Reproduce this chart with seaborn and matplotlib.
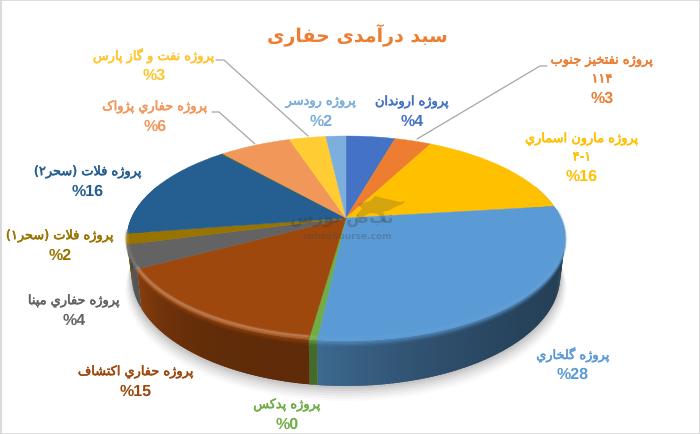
# 3D style revenue pie (persian labels), pixel coords used for the axes

import numpy as np
import matplotlib
matplotlib.use("Agg")
import matplotlib.pyplot as plt
import matplotlib.patheffects as pe
import matplotlib.transforms as mtransforms
from matplotlib.patches import Rectangle
import seaborn as sns

# data, clockwise from 12 o'clock
shares = [4.4, 3.3, 15.4, 28.7, 0.5, 15.0, 3.7, 1.7, 15.8, 0.15, 6.4, 3.3, 1.8]
colors = ["#4472C4", "#ED7D31", "#FFC000", "#5B9BD5", "#70AD47", "#9E480E", "#636363",
          "#997300", "#255E91", "#43682B", "#F1975A", "#FFCD33", "#7CAFDD"]

title = "سبد درآمدی حفاری"
names = ["پروژه اروندان", "پروژه نفتخیز جنوب", "پروژه مارون اسماري", "پروژه گلخاري", "پروژه پدکس",
         "پروژه حفاري اکتشاف", "پروژه حفاري مپنا", "پروژه فلات (سحر۱)", "پروژه فلات (سحر۲)",
         "پروژه حفاري پژواک", "پروژه نفت و گاز پارس", "پروژه رودسر"]
extra_lines = ["", "۱۱۴", "۴-۱", "", "", "", "", "", "", "", "", ""]
percents = ["%4", "%3", "%16", "%28", "%0", "%15", "%4", "%2", "%16", "%6", "%3", "%2"]
label_colors = ["#4472C4", "#ED7D31", "#FFC000", "#5B9BD5", "#70AD47", "#9E480E", "#636363",
                "#997300", "#255E91", "#F1975A", "#FFC52F", "#7CAFDD"]
label_x = [412, 602, 582, 573, 287, 136, 74, 60, 88, 155, 154, 321]
label_y = [103, 62, 140, 356, 406, 373, 302, 237, 173, 108, 57, 103]

# wall brightness per slice, right end / left end
wall_right = [.6, .6, .6, .4, .62, .6, .85, .7, .7, .7, .7, .7, .7]
wall_left = [.6, .6, .6, .68, .62, .88, .9, .7, .7, .7, .7, .7, .7]
# how much of the bevel highlight each slice gets
bevel = [1, 1, 1, .2, .5, 1.7, .6, 1, 1, 1, 1, 1, 1]

# leader lines: label end, elbow, pie end
leaders = [([216, 224, 308], [61, 61, 137]),
           ([212, 219, 255], [113, 113, 145]),
           ([547, 540, 417], [67, 67, 140])]

# bull of the watermark
bull_x = [358, 370, 375, 387, 400, 405, 403, 397, 390, 383, 387, 383, 378, 370, 362, 355, 357, 362]
bull_y = [205, 202, 197, 200, 203, 202, 205, 207, 211, 213, 223, 223, 215, 214, 218, 223, 215, 210]

CX, CY, SX, SY, K, DEPTH = 346, 219, 214.6, 98.4, 0.2, 36


# matplotlib has no arabic shaping so pick the presentation forms by hand
FORMS = {
    "ا": "\uFE8D\uFE8E", "آ": "\uFE81\uFE82", "د": "\uFEA9\uFEAA", "ر": "\uFEAD\uFEAE",
    "ز": "\uFEAF\uFEB0", "ژ": "\uFB8A\uFB8B", "و": "\uFEED\uFEEE",
    "ب": "\uFE8F\uFE90\uFE91\uFE92", "پ": "\uFB56\uFB57\uFB58\uFB59", "ت": "\uFE95\uFE96\uFE97\uFE98",
    "ج": "\uFE9D\uFE9E\uFE9F\uFEA0", "ح": "\uFEA1\uFEA2\uFEA3\uFEA4", "خ": "\uFEA5\uFEA6\uFEA7\uFEA8",
    "س": "\uFEB1\uFEB2\uFEB3\uFEB4", "ش": "\uFEB5\uFEB6\uFEB7\uFEB8", "ف": "\uFED1\uFED2\uFED3\uFED4",
    "ک": "\uFB8E\uFB8F\uFB90\uFB91", "گ": "\uFB92\uFB93\uFB94\uFB95", "ل": "\uFEDD\uFEDE\uFEDF\uFEE0",
    "م": "\uFEE1\uFEE2\uFEE3\uFEE4", "ن": "\uFEE5\uFEE6\uFEE7\uFEE8", "ه": "\uFEE9\uFEEA\uFEEB\uFEEC",
    "ی": "\uFBFC\uFBFD\uFBFE\uFBFF", "ي": "\uFEF1\uFEF2\uFEF3\uFEF4",
}
MIRROR = {"(": ")", ")": "("}


def shape(text):
    out = []
    i = 0
    while i < len(text):
        ch = text[i]
        if ch not in FORMS:
            out.append(MIRROR.get(ch, ch))
            i += 1
            continue
        prev_joins = i > 0 and text[i - 1] in FORMS and len(FORMS[text[i - 1]]) == 4
        if ch == "ل" and i + 1 < len(text) and text[i + 1] == "ا":
            out.append("\uFEFC" if prev_joins else "\uFEFB")
            i += 2
            continue
        forms = FORMS[ch]
        next_joins = len(forms) == 4 and i + 1 < len(text) and text[i + 1] in FORMS
        if prev_joins and next_joins:
            out.append(forms[3])
        elif next_joins:
            out.append(forms[2])
        elif prev_joins:
            out.append(forms[1])
        else:
            out.append(forms[0])
        i += 1
    return "".join(reversed(out))


class TiltTransform(mtransforms.Transform):
    # perspective view of the unit circle, gives pixel coords
    input_dims = 2
    output_dims = 2
    is_separable = False

    def transform_non_affine(self, values):
        values = np.asarray(values, dtype=float)
        w = 1 + K * values[:, 1]
        return np.column_stack([CX + SX * values[:, 0] / w, CY - SY * values[:, 1] / w])


def rim(theta, drop=0.0):
    rad = np.radians(theta)
    X, Y = np.sin(rad), np.cos(rad)
    w = 1 + K * Y
    # the lower edge of the wall is a bit narrower than the top
    scale = 1 - 0.022 * drop / DEPTH
    return CX + SX * X / w * scale, CY - SY * Y / w + drop / w


def mix(color, factor):
    rgb = np.array(matplotlib.colors.to_rgb(color))
    if factor <= 1:
        return tuple(rgb * factor)
    return tuple(rgb + (1 - rgb) * (factor - 1))


def label(x, y, text, col):
    # regular weight with a thin stroke, true bold closes up the dots at this size
    ax.text(x, y, text, color=col, fontsize=9.3, ha="center", va="center",
            path_effects=[pe.withStroke(linewidth=0.4, foreground=col)])


sns.set_theme(style="white")
plt.rcParams["text.hinting"] = "no_hinting"
plt.rcParams["text.hinting_factor"] = 1
palette = sns.color_palette(colors)

fig, ax = plt.subplots(figsize=(7, 4.35), dpi=100)
fig.subplots_adjust(0, 0, 1, 1)

edges = np.concatenate([[0], np.cumsum(shares)]) / np.sum(shares) * 360

# soft shadow under the pie
ring = np.linspace(70, 290, 120)
for grow, alpha in zip([12, 10, 8, 6, 4, 2], [.02, .03, .035, .04, .05, .06]):
    xs, ys = rim(ring, DEPTH + grow)
    ax.fill(CX + (xs - CX) * (1 + grow / 320), ys, color="black", alpha=alpha, lw=0, zorder=1)

# side wall, split in thin strips so it can carry a gradient
for i, color in enumerate(palette):
    a, b = max(edges[i], 70), min(edges[i + 1], 290)
    if b <= a:
        continue
    steps = np.arange(a, b + 1.0, 1.0).clip(max=b)
    for t0, t1 in zip(steps[:-1], steps[1:]):
        frac = ((t0 - a) / (b - a)) ** 3
        shade = wall_right[i] + (wall_left[i] - wall_right[i]) * frac
        seg = np.linspace(t0, min(t1 + 0.8, b), 3)
        x0, y0 = rim(seg)
        x1, y1 = rim(seg, DEPTH)
        ax.fill(np.r_[x0, x1[::-1]], np.r_[y0, y1[::-1]], color=mix(color, shade), lw=0, zorder=2)

# top face
wedges, _ = ax.pie(shares, colors=palette, startangle=90, counterclock=False, radius=1)
tilt = TiltTransform()
for w in wedges:
    w.set_transform(tilt + ax.transData)
    w.set_zorder(3)
    w.set_edgecolor(w.get_facecolor())
    w.set_linewidth(0.3)

# bevel along the front edge: soft band on the wall, highlight on the rim
for i, color in enumerate(palette):
    a, b = max(edges[i], 85), min(edges[i + 1], 262)
    if b <= a:
        continue
    seg = np.linspace(a, b, 60)
    for drop, lw, alpha in zip([3, 2, 1, 0], [2.5, 2.0, 2.0, 2.0], [.12, .2, .3, .4]):
        x, y = rim(seg, drop)
        ax.plot(x, y, color=color, lw=lw, alpha=alpha, zorder=2.5, solid_capstyle="butt")
    for lift, lw, alpha in zip([-2.0, -2.0, -2.5], [4.0, 2.5, 1.2], [.1, .16, .22]):
        x, y = rim(seg, lift)
        ax.plot(x, y, color=mix(color, 1.45), lw=lw, alpha=min(alpha * bevel[i], 1), zorder=4,
                solid_capstyle="butt")

# watermark
ax.text(342, 219, shape("نبض بورس"), color="#333333", alpha=.28, fontsize=12, fontweight="bold",
        ha="center", va="center", zorder=5)
ax.text(347, 236, "nabzebourse.com", color="#444444", alpha=.3, fontsize=6.2, fontweight="bold",
        ha="center", va="center", zorder=5)
ax.fill(bull_x, bull_y, color="#444444", alpha=.22, lw=0, zorder=5)

for xs, ys in leaders:
    ax.plot(xs, ys, color="#A6A6A6", lw=0.9, zorder=5)

ax.text(357, 36, shape(title), color="#ED7D31", fontsize=13.6, fontweight="bold", ha="center", va="center")

for name, extra, pct, col, x, y in zip(names, extra_lines, percents, label_colors, label_x, label_y):
    label(x, y, shape(name), col)
    if extra:
        label(x, y + 18, extra, col)
        y += 18
    ax.text(x, y + 18.5, pct, color=col, fontsize=11.5, fontweight="bold", family="Liberation Sans",
            ha="center", va="center")

ax.set_aspect("auto")
ax.set_xlim(0, 700)
ax.set_ylim(435, 0)
ax.axis("off")

fig.add_artist(Rectangle((0, 0), 1, 1, transform=fig.transFigure, fill=False, ec="#D9D9D9", lw=2))

fig.savefig("out.png", dpi=100)
